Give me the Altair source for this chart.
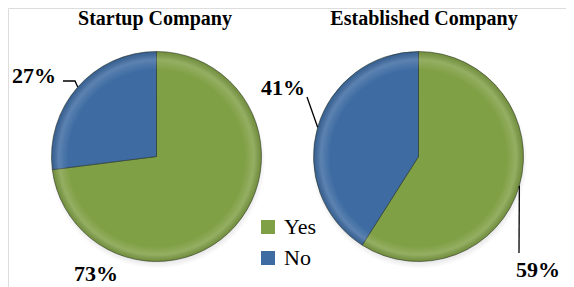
import math
import altair as alt
import pandas as pd

# ---- data ----
companies = ["Startup Company", "Established Company"]
answers = ["Yes", "No"]
startup_pct = [73, 27]
established_pct = [59, 41]

# ---- style / layout (plot-area pixels) ----
colors = ["#80a045", "#3d6ba2"]
W, H = 558, 279
R = 105
centers = {"Startup Company": (148.5, 148.5), "Established Company": (410.5, 148.5)}
title_pos = {"Startup Company": (147, 1), "Established Company": (416, 1)}
label_layout = {
    ("Startup Company", "No"): {"text": (26, 68), "leader": [(55, 73), (67, 73)]},
    ("Startup Company", "Yes"): {"text": (88, 266), "leader": []},
    ("Established Company", "No"): {"text": (275, 80), "leader": [(299, 89)]},
    ("Established Company", "Yes"): {"text": (530, 262), "leader": [(511, 245)]},
}

rows = []
for comp, vals in zip(companies, [startup_pct, established_pct]):
    cum = 0
    for i, (ans, v) in enumerate(zip(answers, vals)):
        rows.append({"company": comp, "answer": ans, "value": v, "order": i,
                     "start": cum, "end": cum + v, "label": f"{v}%"})
        cum += v
df = pd.DataFrame(rows)

# label + leader tables derived from data
lab_rows, lead_rows = [], []
for r in rows:
    key = (r["company"], r["answer"])
    lay = label_layout[key]
    lab_rows.append({"label": r["label"], "tx": lay["text"][0], "ty": lay["text"][1]})
    if lay["leader"]:
        cx, cy = centers[r["company"]]
        mid = (r["start"] + r["end"]) / 2 / 100 * 2 * math.pi
        pts = list(lay["leader"]) + [(cx + R * math.sin(mid), cy - R * math.cos(mid))]
        for j, (px, py) in enumerate(pts):
            lead_rows.append({"key": r["label"] + r["company"], "i": j, "px": px, "py": py})
labels_df = pd.DataFrame(lab_rows)
lead_df = pd.DataFrame(lead_rows)
titles_df = pd.DataFrame([{"t": c, "tx": title_pos[c][0], "ty": title_pos[c][1]} for c in companies])

theta_scale = alt.Scale(domain=[0, 100], range=[0, 2 * math.pi])
color_scale = alt.Scale(domain=answers, range=colors)

layers = []
for k, comp in enumerate(companies):
    cx, cy = centers[comp]
    base = alt.Chart(df).transform_filter(alt.datum.company == comp)
    one = alt.Chart(df).transform_filter(alt.datum.company == comp).transform_aggregate(n="count()")
    # soft shadow
    shadow = one.mark_arc(
        outerRadius=R + 3, theta=0, theta2=2 * math.pi,
        fill=alt.Gradient(gradient="radial", x1=0.5, y1=0.5, r1=0, x2=0.5, y2=0.5, r2=0.5,
                          stops=[alt.GradientStop(offset=0, color="rgba(0,0,0,0.25)"),
                                 alt.GradientStop(offset=0.9, color="rgba(0,0,0,0.15)"),
                                 alt.GradientStop(offset=1, color="rgba(0,0,0,0)")]),
    ).encode(x=alt.value(cx + 1), y=alt.value(cy + 4))
    arcs = base.mark_arc(outerRadius=R, stroke="#2a3320", strokeWidth=0.8, strokeOpacity=0.7).encode(
        theta=alt.Theta("start:Q", scale=theta_scale),
        theta2="end:Q",
        color=alt.Color("answer:N", scale=color_scale, sort=answers,
                        legend=alt.Legend(title=None, orient="none", legendX=249, legendY=208,
                                          symbolType="square", symbolSize=196, symbolStrokeWidth=0,
                                          labelFont="Liberation Serif", labelFontSize=22,
                                          labelColor="#000000", labelOffset=5, rowPadding=9,
                                          padding=0) if k == 0 else None),
        x=alt.value(cx), y=alt.value(cy),
    )
    # bevel: light inner rim at top, darker edge
    bevel_top = one.mark_arc(
        outerRadius=R, theta=0, theta2=2 * math.pi,
        fill=alt.Gradient(gradient="radial", x1=0.5, y1=0.55, r1=0, x2=0.5, y2=0.5, r2=0.5,
                          stops=[alt.GradientStop(offset=0, color="rgba(255,255,255,0)"),
                                 alt.GradientStop(offset=0.84, color="rgba(255,255,255,0)"),
                                 alt.GradientStop(offset=0.93, color="rgba(255,255,255,0.16)"),
                                 alt.GradientStop(offset=1, color="rgba(0,0,0,0.12)")]),
    ).encode(x=alt.value(cx), y=alt.value(cy))
    layers += [shadow, arcs, bevel_top]

leaders = alt.Chart(lead_df).mark_line(color="#000000", strokeWidth=1.3).encode(
    x=alt.X("px:Q", scale=None), y=alt.Y("py:Q", scale=None),
    detail="key:N", order="i:Q")

labels = alt.Chart(labels_df).mark_text(font="Liberation Serif", fontWeight="bold", fontSize=22,
                                        color="#000000", baseline="middle", align="center").encode(
    x=alt.X("tx:Q", scale=None), y=alt.Y("ty:Q", scale=None), text="label:N")

titles = alt.Chart(titles_df).mark_text(font="Liberation Serif", fontWeight="bold", fontSize=20,
                                        color="#000000", baseline="top", align="center").encode(
    x=alt.X("tx:Q", scale=None), y=alt.Y("ty:Q", scale=None), text="t:N")

chart = alt.layer(*layers, leaders, labels, titles).properties(
    width=W, height=H, padding=0, autosize=alt.AutoSizeParams(type="none")
).configure_view(stroke=None).configure(background="#ffffff")

chart.save("out.html", embed_options={"renderer": "svg", "actions": False})
